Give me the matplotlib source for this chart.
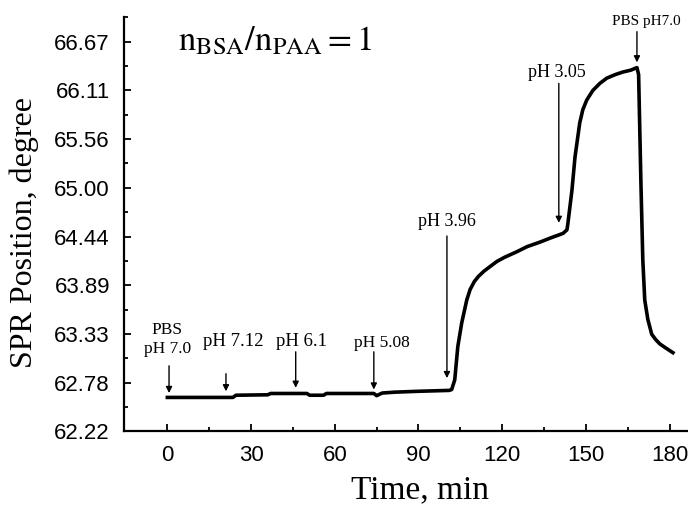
import numpy as np
import matplotlib.pyplot as plt
from matplotlib.ticker import FixedLocator, FormatStrFormatter

plt.rcParams['font.family'] = ['Liberation Serif', 'DejaVu Serif']
plt.rcParams['mathtext.fontset'] = 'stix'

# SPR curve
time_min = [0, 12, 23.5, 24.6, 36, 37, 50, 51, 56, 57, 74, 75, 77, 81.5, 90, 101,
            101.9, 103.0, 104.1, 105.5, 107.3, 108.5, 110.0, 111.5, 113.5, 116.0,
            118.1, 121.0, 125.2, 129.0, 133.5, 137.5, 141.8,
            143.2, 143.5, 145.0, 146.1, 147.8, 148.9, 150.3, 152.5, 155.0, 157.5,
            160.5, 163.3, 166.0, 168.3,
            168.9, 169.7, 170.4, 171.1, 172.2, 173.6, 175.0, 176.5, 178.8, 181.2]
spr_deg = [62.61, 62.61, 62.61, 62.635, 62.64, 62.655, 62.655, 62.635, 62.635, 62.655,
           62.655, 62.63, 62.66, 62.67, 62.68, 62.69,
           62.70, 62.81, 63.19, 63.46, 63.72, 63.84, 63.93, 63.99, 64.05, 64.11,
           64.16, 64.21, 64.27, 64.33, 64.38, 64.43, 64.48,
           64.52, 64.58, 64.97, 65.35, 65.74, 65.89, 66.00, 66.11, 66.19, 66.25,
           66.29, 66.32, 66.34, 66.37,
           66.29, 65.09, 64.18, 63.72, 63.50, 63.33, 63.27, 63.22, 63.17, 63.12]

# injection marks: label, arrow x, arrow tail y, arrow tip y, text x, text y
mark_labels = ['PBS\npH 7.0', 'pH 7.12', 'pH 6.1', 'pH 5.08', 'pH 3.96', 'pH 3.05', 'PBS pH7.0']
mark_x = [0.6, 21, 46, 74, 100.2, 140.3, 168.3]
mark_tail = [62.97, 62.88, 63.13, 63.13, 64.45, 66.19, 66.78]
mark_tip = [62.66, 62.68, 62.72, 62.70, 62.83, 64.60, 66.43]
text_x = [0, 23.5, 48, 76.8, 100.2, 139.6, 171.5]
text_y = [63.27, 63.25, 63.25, 63.23, 64.61, 66.31, 66.89]
text_size = [12.5, 13.5, 13.5, 12.5, 13, 13, 11]

y_ticks = [62.22, 62.78, 63.33, 63.89, 64.44, 65.00, 65.56, 66.11, 66.67]
x_ticks = [0, 30, 60, 90, 120, 150, 180]

fig = plt.figure(figsize=(6.88, 5.07), dpi=100)
ax = fig.add_axes([0.180, 0.149, 0.820, 0.818])

ax.plot(time_min, spr_deg, color='black', lw=2.6, solid_joinstyle='round')

for i in range(len(mark_labels)):
    ax.annotate('', xy=(mark_x[i], mark_tip[i]), xytext=(mark_x[i], mark_tail[i]),
                arrowprops=dict(arrowstyle='-|>', color='black', lw=1.0,
                                mutation_scale=9, shrinkA=0, shrinkB=0))
    ax.text(text_x[i], text_y[i], mark_labels[i], ha='center', va='center',
            fontsize=text_size[i], linespacing=1.2)

ax.text(3.8, 66.57, r'$\mathrm{n_{BSA}/n_{PAA}{=}1}$', fontsize=25, ha='left', va='baseline')

ax.set_xlim(-15.6, 186.6)
ax.set_ylim(62.222, 66.95)
ax.spines['top'].set_visible(False)
ax.spines['right'].set_visible(False)
ax.spines['left'].set_linewidth(1.6)
ax.spines['bottom'].set_linewidth(1.6)

ax.set_xticks(x_ticks)
ax.xaxis.set_minor_locator(FixedLocator([15, 45, 75, 105, 135, 165]))
y_major = [62.2222 + k * 5 / 9 for k in range(9)]
ax.yaxis.set_major_locator(FixedLocator(y_major))
ax.yaxis.set_minor_locator(FixedLocator([v + 5 / 18 for v in y_major]))
ax.set_yticklabels(['%.2f' % v for v in y_ticks])

ax.tick_params(which='both', direction='in', width=1.3)
ax.tick_params(which='major', length=5, pad=10)
ax.tick_params(which='minor', length=3)
for lab in ax.get_xticklabels() + ax.get_yticklabels():
    lab.set_family(['Liberation Sans', 'DejaVu Sans'])
    lab.set_fontsize(16)

ax.set_xlabel('Time, min', fontsize=24)
ax.set_ylabel('SPR Position, degree', fontsize=23)
ax.xaxis.set_label_coords(0.525, -0.105)
ax.yaxis.set_label_coords(-0.15, 0.48)

fig.savefig('out.png', dpi=100)
